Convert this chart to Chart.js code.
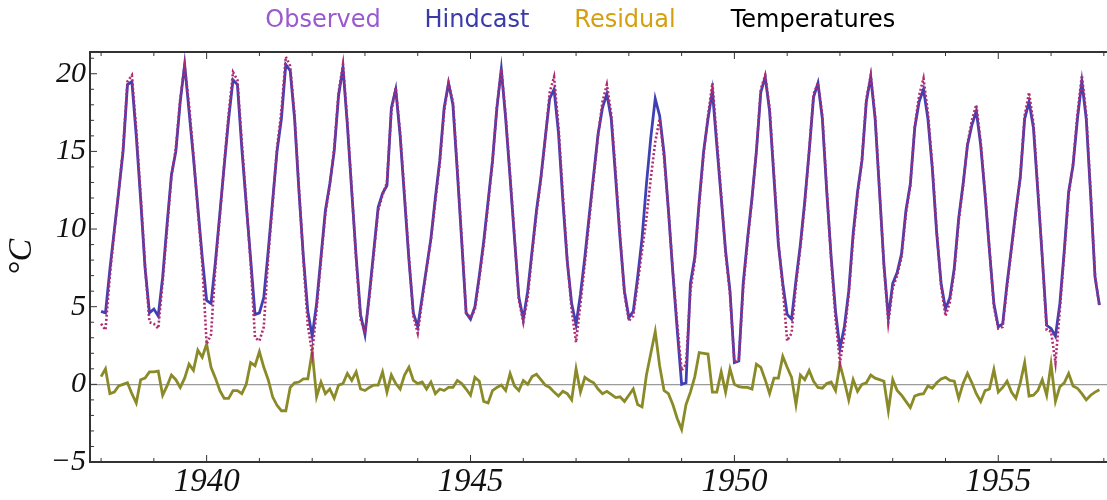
<!DOCTYPE html>
<html>
<head>
<meta charset="utf-8">
<title>Temperatures</title>
<script src="https://cdn.jsdelivr.net/npm/chart.js@4.4.1/dist/chart.umd.min.js"></script>
<style>
    html, body { margin: 0; padding: 0; background: #ffffff; }
    #wrap { width: 1107px; height: 500px; position: relative; }
</style>
</head>
<body>
<div id="wrap"><canvas id="tempChart"></canvas></div>
<script>
// Monthly values, Jan 1938 .. Dec 1956, one row per year (deg C)
const startYear = 1938;

const observed = [
    3.9, 3.5, 7.0, 9.8, 12.4, 15.2, 19.5, 19.9, 16.4, 12.2, 7.6, 4.0,
    3.9, 3.6, 6.6, 10.0, 13.4, 15.2, 18.4, 20.5, 18.0, 14.8, 11.2, 7.8,
    2.6, 3.2, 7.6, 10.8, 14.2, 17.4, 20.1, 19.6, 15.6, 11.8, 7.8, 3.0,
    2.8, 3.7, 8.2, 11.6, 15.2, 17.6, 21.1, 20.5, 17.3, 12.6, 8.0, 3.8,
    2.0, 4.8, 8.0, 11.0, 12.8, 15.2, 18.8, 20.6, 16.9, 12.5, 8.0, 4.2,
    3.3, 5.6, 8.4, 11.2, 12.2, 13.0, 17.6, 19.1, 16.2, 12.2, 8.2, 4.4,
    3.3, 5.4, 7.4, 9.3, 11.8, 14.2, 17.6, 19.4, 18.2, 13.9, 9.4, 4.6,
    4.3, 4.8, 6.8, 9.0, 11.6, 14.3, 17.9, 20.3, 17.3, 13.5, 9.5, 5.4,
    4.0, 5.6, 8.4, 11.0, 13.2, 15.8, 18.8, 19.8, 16.6, 12.2, 8.0, 4.8,
    2.7, 5.2, 7.8, 10.6, 13.3, 16.0, 18.2, 19.3, 17.4, 13.6, 9.6, 5.8,
    4.1, 4.4, 6.5, 8.6, 10.7, 13.3, 15.6, 17.1, 14.6, 11.2, 7.3, 3.9,
    0.9, 1.3, 6.0, 8.0, 11.6, 14.8, 17.3, 19.4, 15.8, 12.2, 8.4, 5.8,
    1.4, 1.6, 6.2, 9.2, 11.9, 15.0, 19.0, 19.9, 17.8, 13.5, 9.2, 6.2,
    2.8, 3.3, 6.4, 8.8, 11.6, 15.0, 18.7, 19.4, 17.3, 12.6, 8.0, 4.2,
    1.4, 3.2, 5.8, 9.4, 12.2, 14.4, 18.4, 19.9, 17.3, 12.5, 7.6, 4.0,
    6.2, 7.0, 8.2, 11.0, 12.8, 16.6, 18.6, 19.7, 17.5, 14.1, 9.9, 6.3,
    4.4, 5.3, 7.3, 10.5, 12.8, 15.5, 17.0, 18.0, 15.6, 12.3, 8.7, 5.0,
    3.6, 3.7, 6.3, 8.7, 11.0, 13.4, 17.3, 18.8, 16.8, 12.6, 8.2, 3.5,
    3.4, 1.4, 4.8, 8.4, 12.2, 14.2, 17.4, 19.9, 17.4, 12.4, 7.0, 5.0
];

const hindcast = [
    4.7, 4.6, 7.4, 9.9, 12.4, 15.0, 19.3, 19.5, 16.0, 11.9, 7.5, 4.6,
    4.85, 4.4, 6.9, 10.3, 13.5, 15.0, 18.2, 20.6, 17.6, 14.6, 11.4, 8.2,
    5.4, 5.2, 7.9, 11.0, 14.1, 17.1, 19.6, 19.3, 15.2, 11.6, 8.1, 4.5,
    4.6, 5.6, 8.6, 11.8, 15.0, 17.1, 20.6, 20.2, 17.1, 12.4, 8.2, 4.7,
    3.1, 5.2, 8.2, 11.2, 12.9, 15.0, 18.6, 20.4, 16.7, 12.4, 8.2, 4.5,
    3.2, 5.8, 8.6, 11.4, 12.3, 12.8, 17.8, 19.0, 16.0, 12.0, 8.0, 4.6,
    3.7, 5.6, 7.5, 9.4, 12.0, 14.4, 17.8, 19.4, 18.0, 13.7, 9.2, 4.6,
    4.2, 5.0, 7.0, 9.2, 11.8, 14.4, 17.8, 20.3, 17.1, 13.3, 9.4, 5.6,
    4.2, 6.0, 8.6, 11.2, 13.3, 15.9, 18.4, 19.0, 16.2, 11.8, 7.9, 5.2,
    3.85, 5.8, 8.2, 10.9, 13.5, 16.1, 17.8, 18.7, 17.1, 13.3, 9.4, 6.0,
    4.3, 4.7, 6.9, 9.4, 12.9, 15.9, 18.4, 17.3, 14.9, 11.2, 7.2, 3.5,
    0.0, 0.1, 6.5, 8.2, 11.8, 15.0, 17.1, 18.9, 15.4, 12.0, 8.6, 6.0,
    1.4, 1.5, 6.5, 9.4, 12.0, 15.0, 18.8, 19.8, 17.6, 13.3, 9.0, 6.5,
    4.5, 4.2, 6.7, 9.0, 11.8, 15.0, 18.5, 19.4, 17.1, 12.4, 8.2, 4.7,
    2.3, 3.7, 6.0, 9.7, 12.4, 14.4, 18.2, 19.8, 17.1, 12.4, 7.7, 4.3,
    6.5, 7.2, 8.4, 11.2, 12.9, 16.5, 18.2, 19.0, 17.1, 13.9, 9.7, 6.5,
    4.85, 5.6, 7.5, 10.7, 12.9, 15.4, 16.7, 17.6, 15.4, 12.2, 8.6, 5.2,
    3.7, 3.9, 6.5, 8.8, 11.2, 13.3, 17.1, 18.2, 16.5, 12.4, 8.2, 3.8,
    3.6, 3.1, 5.2, 8.6, 12.4, 14.1, 17.1, 19.5, 17.1, 12.2, 6.9, 5.1
];

const residual = [
    0.5, 1.0, -0.6, -0.5, -0.1, 0.0, 0.1, -0.6, -1.2, 0.3, 0.4, 0.8,
    0.8, 0.85, -0.7, -0.1, 0.6, 0.3, -0.2, 0.4, 1.3, 0.9, 2.2, 1.75,
    2.6, 1.1, 0.4, -0.4, -0.9, -0.9, -0.4, -0.4, -0.6, 0.0, 1.4, 1.2,
    2.1, 1.1, 0.3, -0.8, -1.35, -1.7, -1.7, -0.2, 0.1, 0.15, 0.35, 0.35,
    2.1, -0.8, 0.15, -0.6, -0.3, -0.9, -0.05, 0.05, 0.7, 0.25, 0.8, -0.3,
    -0.4, -0.2, -0.05, -0.05, 0.8, -0.5, 0.6, 0.05, -0.3, 0.6, 1.1, 0.25,
    0.05, 0.15, -0.3, 0.15, -0.6, -0.3, -0.4, -0.2, -0.2, 0.25, 0.05, -0.3,
    -0.7, 0.45, 0.2, -1.1, -1.2, -0.4, -0.2, -0.05, -0.4, 0.7, -0.1, -0.4,
    0.25, 0.0, 0.5, 0.65, 0.3, -0.05, -0.2, -0.5, -0.75, -0.45, -0.6, -1.0,
    1.0, -0.5, 0.45, 0.25, 0.1, -0.3, -0.6, -0.45, -0.65, -0.85, -0.8, -1.1,
    -0.7, -0.3, -1.3, -1.45, 0.6, 2.0, 3.4, 1.2, -0.4, -0.6, -1.3, -2.2,
    -2.9, -1.3, -0.5, 0.5, 2.05, 2.0, 1.95, -0.5, -0.5, 0.8, -0.5, 1.0,
    0.0, -0.15, -0.2, -0.2, -0.3, 1.3, 1.1, 0.3, -0.6, 0.4, 0.4, 1.8,
    1.1, 0.45, -1.3, 0.6, 0.3, 0.9, 0.2, -0.2, -0.25, 0.05, 0.15, -0.4,
    1.3, 0.2, -1.0, 0.3, -0.45, 0.0, 0.1, 0.6, 0.4, 0.3, 0.2, -1.7,
    0.3, -0.4, -0.7, -1.1, -1.5, -0.75, -0.65, -0.6, -0.1, -0.25, 0.1, 0.35,
    0.45, 0.25, 0.2, -0.9, 0.05, 0.7, 0.1, -0.6, -1.1, -0.4, -0.3, 0.95,
    -0.5, -0.2, 0.2, -0.5, -0.9, 0.1, 1.4, -0.75, -0.7, -0.4, 0.3, -0.7,
    1.3, -1.1, -0.15, 0.1, 0.7, -0.1, -0.25, -0.6, -1.0, -0.7, -0.5, -0.35
];

// Tick labels
const yearTicks = [1940, 1945, 1950, 1955];
const tempTicks = [-5, 0, 5, 10, 15, 20];

// Header line (legend entries + plot name)
const headerItems = [
    { text: 'Observed', color: '#9b59d0', center: 323 },
    { text: 'Hindcast', color: '#3a3aa8', center: 477 },
    { text: 'Residual', color: '#d4a010', center: 625 },
    { text: 'Temperatures', color: '#000000', center: 813 }
];

// month index -> decimal year
const toPoints = (arr) => arr.map((v, i) => ({ x: startYear + i / 12, y: v }));

/**
 * Header text drawn above the frame
 */
const headerLegend = {
    id: 'headerLegend',
    afterDraw(chart) {
        const ctx = chart.ctx;
        ctx.save();
        ctx.font = '24px "DejaVu Sans", sans-serif';
        ctx.textAlign = 'center';
        ctx.textBaseline = 'middle';
        headerItems.forEach(item => {
            ctx.fillStyle = item.color;
            ctx.fillText(item.text, item.center, 21);
        });
        ctx.restore();
    }
};

/**
 * Top frame line and inward tick marks (Mathematica-style frame)
 */
const frameTicks = {
    id: 'frameTicks',
    afterDatasetsDraw(chart) {
        const { ctx, chartArea: a, scales: { x, y } } = chart;
        ctx.save();
        ctx.strokeStyle = '#333333';
        ctx.lineWidth = 2;
        ctx.beginPath();
        ctx.moveTo(a.left, a.top);
        ctx.lineTo(a.right, a.top);
        ctx.stroke();

        ctx.lineWidth = 1;
        ctx.beginPath();
        for (let yr = Math.ceil(x.min); yr <= x.max; yr++) {
            const px = x.getPixelForValue(yr);
            const len = yr % 5 === 0 ? 7 : 4;
            ctx.moveTo(px, a.bottom);
            ctx.lineTo(px, a.bottom - len);
            ctx.moveTo(px, a.top);
            ctx.lineTo(px, a.top + len);
        }
        for (let t = Math.ceil(y.min); t <= y.max; t++) {
            const py = y.getPixelForValue(t);
            const len = t % 5 === 0 ? 7 : 4;
            ctx.moveTo(a.left, py);
            ctx.lineTo(a.left + len, py);
        }
        ctx.stroke();
        ctx.restore();
    }
};

const tickFont = (size) => ({ family: '"Liberation Serif", "Times New Roman", serif', style: 'italic', size: size });

new Chart(document.getElementById('tempChart'), {
    type: 'line',
    data: {
        datasets: [
            {
                label: 'Observed',
                data: toPoints(observed),
                borderColor: '#b02a70',
                borderWidth: 2.6,
                borderDash: [2, 2.2],
                pointRadius: 0,
                tension: 0
            },
            {
                label: 'Hindcast',
                data: toPoints(hindcast),
                borderColor: '#4040b4',
                borderWidth: 2.8,
                pointRadius: 0,
                tension: 0
            },
            {
                label: 'Residual',
                data: toPoints(residual),
                borderColor: '#8a8a28',
                borderWidth: 2.8,
                pointRadius: 0,
                tension: 0
            }
        ]
    },
    options: {
        responsive: true,
        maintainAspectRatio: false,
        animation: false,
        layout: { padding: { top: 52, right: 0, bottom: 0, left: 0 } },
        plugins: {
            legend: { display: false },
            tooltip: { enabled: false }
        },
        scales: {
            x: {
                type: 'linear',
                min: 1937.79,
                max: 1957.06,
                afterBuildTicks: (scale) => {
                    scale.ticks = yearTicks.map(v => ({ value: v }));
                },
                afterFit: (scale) => { scale.height = 38; },
                ticks: {
                    color: '#111111',
                    font: tickFont(33),
                    padding: 1,
                    maxRotation: 0,
                    callback: (v) => String(v)
                },
                grid: { display: false, drawTicks: false },
                border: { display: true, color: '#333333', width: 2 }
            },
            y: {
                min: -5,
                max: 21.4,
                afterBuildTicks: (scale) => {
                    scale.ticks = tempTicks.map(v => ({ value: v }));
                },
                afterFit: (scale) => { scale.width = 90; },
                ticks: {
                    color: '#111111',
                    font: tickFont(30),
                    padding: 4,
                    callback: (v) => v < 0 ? '\u2212' + Math.abs(v) : String(v)
                },
                grid: {
                    drawTicks: false,
                    color: (c) => c.tick && c.tick.value === 0 ? '#9a9a9a' : 'rgba(0,0,0,0)',
                    lineWidth: 1.2
                },
                border: { display: true, color: '#333333', width: 2 },
                title: {
                    display: true,
                    text: '\u00B0C',
                    color: '#111111',
                    font: tickFont(34),
                    padding: { top: 2, bottom: 0 }
                }
            }
        }
    },
    plugins: [headerLegend, frameTicks]
});
</script>
</body>
</html>
